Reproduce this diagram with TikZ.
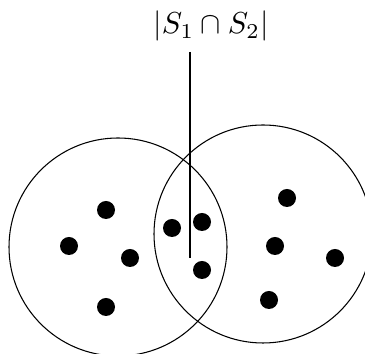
\documentclass[tikz,border=0pt]{standalone}
\begin{document}
\begin{tikzpicture}[x=0.33pt,y=-0.33pt,
  setcirc/.style={circle,draw,line width=0.35pt,minimum size=218*0.33pt,inner sep=0pt},
  elem/.style={circle,fill=black,minimum size=18*0.33pt,inner sep=0pt}]
\useasboundingbox (0,0) rectangle (365,354);
\node[setcirc] (A) at (118,247) {};
\node[setcirc] (B) at (263,234) {};
\node (lbl) at (211,26) {$|S_1\cap S_2|$};
\coordinate (ltop) at (190,52);
\coordinate (lbot) at (190,258);
\draw[line width=0.5pt] (ltop) -- (lbot);
\node[elem] (a1) at (106,210) {};
\node[elem] (a2) at (69,246) {};
\node[elem] (a3) at (130,258) {};
\node[elem] (a4) at (106,307) {};
\node[elem] (c1) at (172,228) {};
\node[elem] (c2) at (202,222) {};
\node[elem] (c3) at (202,270) {};
\node[elem] (b1) at (287,198) {};
\node[elem] (b2) at (275,246) {};
\node[elem] (b3) at (335,258) {};
\node[elem] (b4) at (269,300) {};
\end{tikzpicture}
\end{document}
